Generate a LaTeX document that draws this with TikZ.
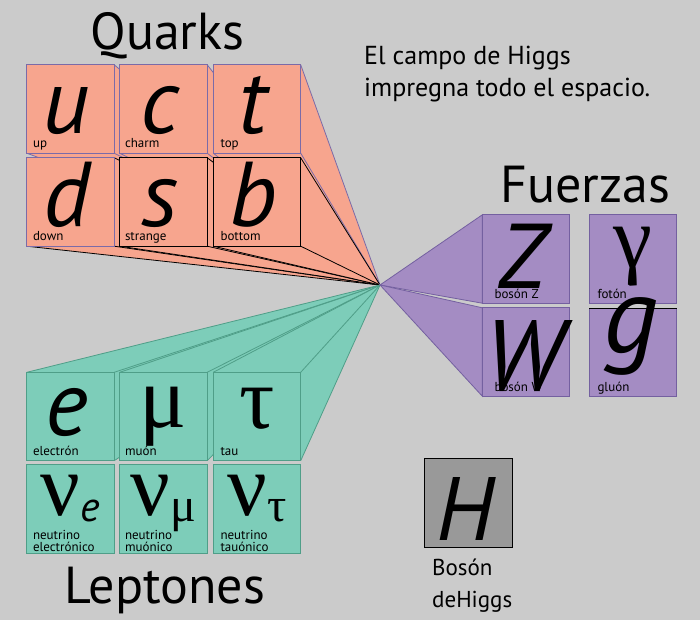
\documentclass[tikz,border=0pt]{standalone}
\usepackage{fontspec}
\setmainfont{PT Sans}
\newfontfamily\griego{Liberation Serif}

\definecolor{fondo}{HTML}{CBCBCB}
\definecolor{quarkfill}{HTML}{F7A58E}
\definecolor{quarkline}{HTML}{7B6BA8}
\definecolor{leptonfill}{HTML}{7DCDB9}
\definecolor{leptonline}{HTML}{4F9E88}
\definecolor{fuerzafill}{HTML}{A48CC3}
\definecolor{fuerzaline}{HTML}{7460A0}
\definecolor{higgsfill}{HTML}{999999}

\tikzset{
  caja/.style={minimum width=87pt, minimum height=88pt, inner sep=0pt},
  letra/.style={anchor=base, inner sep=0pt, font=\fontsize{92}{92}\selectfont\itshape},
  griega/.style={anchor=base, inner sep=0pt, font=\fontsize{88}{88}\selectfont\griego},
  nombre/.style={anchor=base west, inner sep=0pt, font=\fontsize{13}{12}\selectfont},
  titulo/.style={anchor=base, inner sep=0pt, font=\fontsize{52}{52}\selectfont}
}

\begin{document}
\begin{tikzpicture}[x=1pt,y=-1pt]
    \path[fill=fondo] (0,0) rectangle (700,620);
    \useasboundingbox (0,0) rectangle (700,620);
    \coordinate (campo) at (380,285);

    \foreach \n/\x/\y in {u/70.5/109, c/163.5/109, t/257/109, d/70.5/202, s/163.5/202,
                          b/257/202, e/70.5/416.5, mu/163.5/416.5, tau/257/416.5,
                          nue/70.5/509, numu/163.5/509, nutau/257/509, Z/526/259,
                          gamma/633/259, W/526/352, g/633/352.5, H/468.5/503}
        \node[caja] (\n) at (\x,\y) {};

    \foreach \n/\borde/\rayo in {u/quarkline/quarkline, d/quarkline/black, c/quarkline/quarkline,
                                 s/black/black, t/quarkline/quarkline, b/black/black} {
        \path[fill=quarkfill] (\n.north west) -- (\n.north east) -- (campo) -- (\n.south west) -- cycle;
        \foreach \a in {north east, south east, south west}
            \path[draw=\rayo, line width=0.8pt] (\n.\a) -- (campo);
        \path[draw=\borde, fill=quarkfill, line width=1pt] (\n.south west) rectangle (\n.north east);
    }

    \foreach \n in {e, mu, tau} {
        \path[fill=leptonfill] (\n.north west) -- (campo) -- (\n.south east) -- (\n.south west) -- cycle;
        \foreach \a in {north west, north east, south east}
            \path[draw=leptonline, line width=0.8pt] (\n.\a) -- (campo);
        \path[draw=leptonline, fill=leptonfill, line width=1pt] (\n.south west) rectangle (\n.north east);
    }
    \foreach \n in {nue, numu, nutau}
        \path[draw=leptonline, fill=leptonfill, line width=1pt] (\n.south west) rectangle (\n.north east);

    \foreach \n in {Z, W}
        \path[draw=fuerzaline, fill=fuerzafill, line width=0.8pt] (campo) -- (\n.north west) -- (\n.south west) -- cycle;
    \foreach \n in {Z, gamma, W, g}
        \path[draw=fuerzaline, fill=fuerzafill, line width=1pt] (\n.south west) rectangle (\n.north east);
    \path[draw, line width=1.5pt] (g.north west) -- (g.north east);
    \path[draw, fill=higgsfill, line width=1pt] (H.south west) rectangle (H.north east);

    \foreach \n/\h/\l in {u/20/u, c/20/c, t/20/t, d/20/d, s/20/s, b/20/b, e/25/e, Z/15/Z}
        \node[letra] at ([shift={(-4,-\h)}]\n.south) {\l};
    \node[letra, font=\fontsize{100}{100}\selectfont\itshape] at ([shift={(-2,-6)}]W.south) {W};
    \node[letra, font=\fontsize{108}{108}\selectfont\itshape] at ([shift={(-2,-44)}]g.south) {g};
    \node[letra, font=\fontsize{90}{90}\selectfont\itshape] at ([shift={(-3,-7)}]H.south) {H};

    \foreach \n/\h/\l in {mu/33/μ, tau/32/τ, gamma/36/γ}
        \node[griega] at ([yshift=\h pt]\n.south) {\l};
    \foreach \n/\l in {nue/{\fontsize{42}{42}\selectfont\rmfamily\itshape e},
                       numu/{\fontsize{48}{48}\selectfont μ},
                       nutau/{\fontsize{48}{48}\selectfont τ}}
        \node[griega] at ([yshift=38pt]\n.south) {ν\raisebox{-6pt}{\l}};

    \foreach \n/\dx/\dy/\nom in {u/6/6/up, c/5/6/charm, t/7/6/top, d/6/6/down, s/5/6/strange,
                                 b/7/6/bottom, e/6/5/electrón, mu/5/5/muón, tau/7/5/tau,
                                 Z/12/5/bosón Z, gamma/8/5/fotón, W/12/5/bosón W, g/8/5/gluón}
        \node[nombre] at ([shift={(\dx,-\dy)}]\n.south west) {\nom};
    \foreach \n/\dx/\nom in {nue/6/electrónico, numu/5/muónico, nutau/7/tauónico}
        \node[nombre, align=left, anchor=south west] at ([shift={(\dx,-1)}]\n.south west) {neutrino\\\nom};

    \node[titulo] (quarks) at (167.5,50) {Quarks};
    \node[titulo] (leptones) at (165,603) {Leptones};
    \node[titulo] (fuerzas) at (585.5,202) {Fuerzas};
    \node[anchor=base west, inner sep=0pt, align=left, font=\fontsize{26}{32}\selectfont] (campotxt)
        at (364,97) {El campo de Higgs\\impregna todo el espacio.};
    \node[anchor=base west, inner sep=0pt, align=left, font=\fontsize{23}{32}\selectfont] (higgstxt)
        at (432,607) {Bosón\\deHiggs};
\end{tikzpicture}
\end{document}
